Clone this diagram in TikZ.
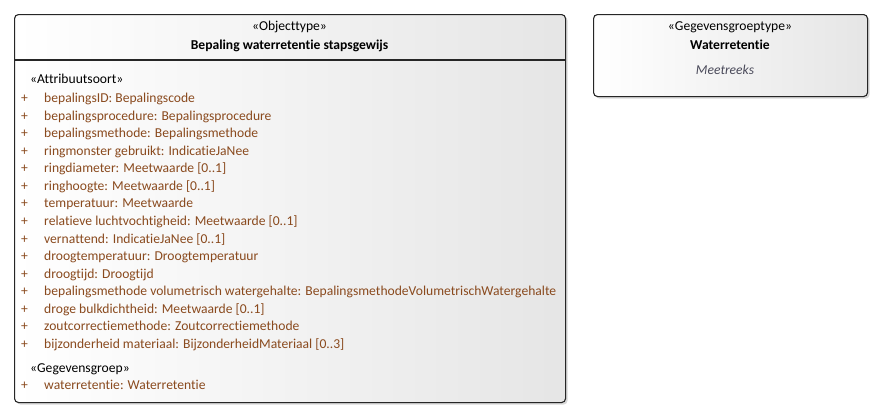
\documentclass[tikz,border=0pt]{standalone}
\usepackage{fontspec}
\setmainfont{Carlito}[Ligatures=NoCommon]
\usetikzlibrary{shadows}
\definecolor{attrcol}{HTML}{8A4A1E}
\definecolor{notecol}{HTML}{4A4A5A}

\tikzset{
  umlbox/.style={draw=black!85, line width=1.1pt, rounded corners=4pt, anchor=north west,
    left color=white, right color=black!10,
    drop shadow={shadow xshift=2pt, shadow yshift=-2pt, fill=black!30}},
  attr/.style={text=attrcol, anchor=base west},
  stereo/.style={anchor=base west}
}

\begin{document}
\begin{tikzpicture}[x=1pt, y=-1pt, every node/.style={inner sep=0pt, font=\fontsize{13.6}{16}\selectfont}]
        \useasboundingbox (0,0) rectangle (886,418);

        % Boxes
        \node[umlbox, minimum width=551pt, minimum height=388pt] (objbox) at (14,14) {};
        \node[umlbox, minimum width=274pt, minimum height=82pt] (grpbox) at (593,14) {};
        \coordinate (divider) at (0,60);
        \draw[line width=1.1pt, black!85] (objbox.west |- divider) -- (objbox.east |- divider);

        % Header objecttype
        \node[anchor=base] (objstereo) at (289.5,30.5) {«Objecttype»};
        \node[anchor=base, font=\fontsize{13.6}{16}\selectfont\bfseries] (objname) at (289.5,49) {Bepaling waterretentie stapsgewijs};

        % Attributes
        \node[stereo] (attrstereo) at (30,83.5) {«Attribuutsoort»};
        \foreach \attrtext [count=\i from 0] in {
            {bepalingsID: Bepalingscode},
            {bepalingsprocedure: Bepalingsprocedure},
            {bepalingsmethode: Bepalingsmethode},
            {ringmonster gebruikt: IndicatieJaNee},
            {ringdiameter: Meetwaarde [0..1]},
            {ringhoogte: Meetwaarde [0..1]},
            {temperatuur: Meetwaarde},
            {relatieve luchtvochtigheid: Meetwaarde [0..1]},
            {vernattend: IndicatieJaNee [0..1]},
            {droogtemperatuur: Droogtemperatuur},
            {droogtijd: Droogtijd},
            {bepalingsmethode volumetrisch watergehalte: BepalingsmethodeVolumetrischWatergehalte},
            {droge bulkdichtheid: Meetwaarde [0..1]},
            {zoutcorrectiemethode: Zoutcorrectiemethode},
            {bijzonderheid materiaal: BijzonderheidMateriaal [0..3]}} {
            \node[attr] (plus\i) at (21,{102.5+17.57*\i}) {+};
            \node[attr] (attr\i) at (44,{102.5+17.57*\i}) {\attrtext};
        }

        % Gegevensgroep
        \node[stereo] (grpstereo) at (30,372.5) {«Gegevensgroep»};
        \node[attr] (plusgrp) at (21,389.5) {+};
        \node[attr] (grpattr) at (44,389.5) {waterretentie: Waterretentie};

        % Header gegevensgroeptype
        \node[anchor=base] (grpstereo2) at (730,30.5) {«Gegevensgroeptype»};
        \node[anchor=base, font=\fontsize{13.6}{16}\selectfont\bfseries] (grpname) at (730,49) {Waterretentie};
        \node[anchor=base, text=notecol, font=\fontsize{13.6}{16}\selectfont\itshape] (grpnote) at (725,74.5) {Meetreeks};
    \end{tikzpicture}
\end{document}
